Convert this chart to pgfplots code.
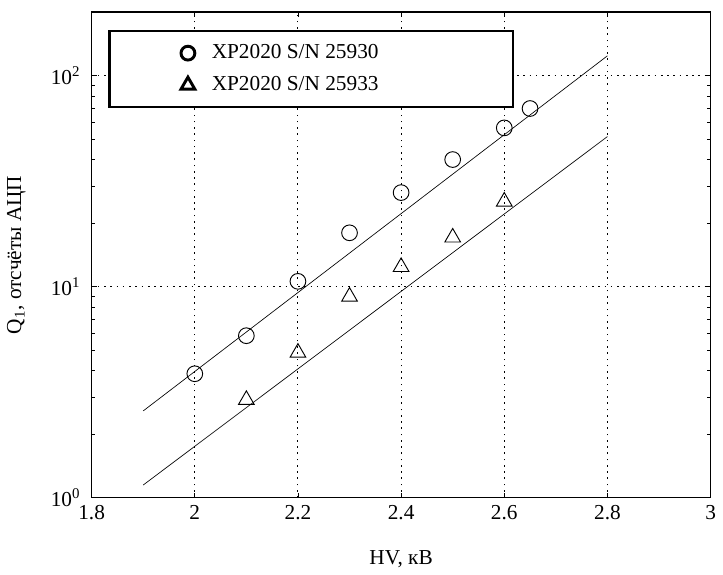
\documentclass[border=0pt]{standalone}
\usepackage{fontspec}
\setmainfont{Liberation Serif}
\usepackage{pgfplots}
\pgfplotsset{compat=1.18}
\begin{document}
\begin{tikzpicture}
\fontsize{16}{19}\selectfont
\begin{axis}[
  name=ax,
  scale only axis,
  width=465pt, height=365pt,
  xmin=1.8, xmax=3,
  ymode=log, ymin=1, ymax=200,
  xtick={1.8,2,2.2,2.4,2.6,2.8,3},
  xticklabels={1.8,2,2.2,2.4,2.6,2.8,3},
  ytick={1,10,100},
  yticklabels={10\textsuperscript{0},10\textsuperscript{1},10\textsuperscript{2}},
  tick align=inside,
  major tick length=4pt, minor tick length=2.5pt,
  tick style={black, line width=0.6pt},
  axis line style={line width=0.9pt},
  grid=major,
  major grid style={black, line width=0.8pt, dash pattern=on 1.2pt off 3.5pt},
  xlabel={HV, кВ},
  ylabel={Q\textsubscript{1}, отсчёты АЦП},
  xlabel style={yshift=-12pt},
  ylabel style={yshift=8pt},
  yticklabel style={xshift=-3pt},
  every tick label/.append style={font=\fontsize{16}{19}\selectfont},
  legend style={at={(rel axis cs:0.027,0.963)}, anchor=north west,
    draw=black, line width=1.8pt, inner xsep=0pt, inner ysep=8pt,
    row sep=7pt, font=\fontsize{16}{19}\selectfont, cells={anchor=west}},
  legend cell align=left,
]
\addplot[black, line width=0.5pt, forget plot] coordinates {(1.9,2.58) (2.8,124)};
\addplot[black, line width=0.5pt, forget plot] coordinates {(1.9,1.15) (2.8,51.4)};
\addplot[only marks, mark=o, mark size=5.9pt, mark options={line width=0.7pt, black}, black,
  legend image code/.code={\path (0pt,0pt) (73pt,0pt); \draw[black, mark=o, mark size=5.2pt, mark options={line width=2.2pt}] plot coordinates {(58pt,0pt)};}]
  coordinates {(2,3.87) (2.1,5.86) (2.2,10.6) (2.3,18) (2.4,27.9) (2.5,40) (2.6,56.5) (2.65,69.8)};
\addlegendentry{XP2020 S/N 25930\rule{99pt}{0pt}}
\addplot[only marks, mark=triangle, mark size=6.8pt, mark options={line width=0.7pt, black}, black,
  legend image code/.code={\path (0pt,0pt) (73pt,0pt); \draw[black, mark=triangle, mark size=6pt, mark options={line width=2.2pt}] plot coordinates {(58pt,0pt)};}]
  coordinates {(2.1,2.91) (2.2,4.87) (2.3,8.97) (2.4,12.4) (2.5,17.1) (2.6,25.3)};
\addlegendentry{XP2020 S/N 25933\rule{99pt}{0pt}}
\end{axis}
\path ([yshift=9pt]ax.north);
\end{tikzpicture}
\end{document}
